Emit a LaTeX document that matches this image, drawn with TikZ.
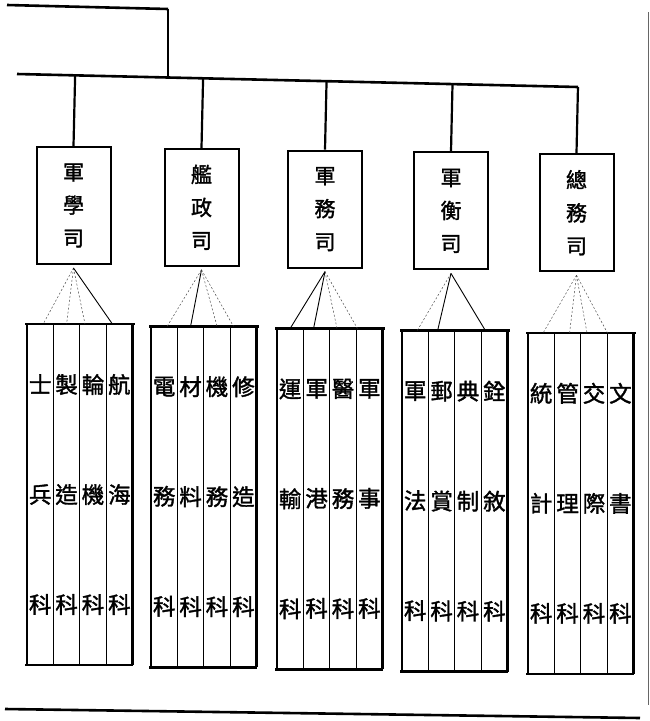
\documentclass[tikz,border=0pt]{standalone}
\usepackage{fontspec}
\newfontfamily\cjk[FakeBold=1.5]{Noto Sans CJK TC}
\usetikzlibrary{positioning, calc}
\tikzset{
  sibox/.style={draw, line width=2pt, minimum width=74pt, minimum height=117pt,
    inner sep=0pt, align=center, font=\cjk\fontsize{21}{33}\selectfont},
  kebox/.style={draw, line width=0.7pt, minimum width=26.4pt,
    minimum height=341pt, text width=26.4pt, inner sep=0pt, outer sep=0pt,
    align=center, font=\cjk\fontsize{22.5}{110}\selectfont},
  rule/.style={line width=2.6pt},
  stem/.style={line width=2.2pt},
  side/.style={line width=2.4pt},
  fanline/.style={line width=0.9pt},
  fandot/.style={line width=0.5pt, dash pattern=on 2pt off 2pt, black!70},
}
\begin{document}
\begin{tikzpicture}[x=1pt, y=-1pt]
    \useasboundingbox (0,0) rectangle (650,721);
    \coordinate (topL) at (7,5);
    \coordinate (topR) at (168,9);
    \coordinate (spine) at (168,77);
    \coordinate (busL) at (17,74);
    \coordinate (busR) at (578,87);
    \draw[rule] (topL) -- (topR);
    \draw[stem] (topR) -- (spine);
    \draw[rule] (busL) -- (busR);

    \node[sibox] (xue) at (73.5,205.5) {軍\\學\\司};
    \node[sibox] (jian) at (201.5,207.3) {艦\\政\\司};
    \node[sibox] (jwu) at (325,209.1) {軍\\務\\司};
    \node[sibox] (heng) at (451,210.9) {軍\\衡\\司};
    \node[sibox] (zong) at (576.5,212.7) {總\\務\\司};
    \foreach \s in {xue, jian, jwu, heng, zong} {
      \coordinate (\s T) at ($(busL)!(\s.north)!(busR)$);
      \draw[stem] (\s T) -- (\s.north);
      \coordinate (\s F) at ([yshift=-3pt]\s.south);
    }

    \node[kebox] (xueA) at (40.2,494.5) {士\\兵\\科};
    \node[kebox, right=0pt of xueA] (xueB) {製\\造\\科};
    \node[kebox, right=0pt of xueB] (xueC) {輪\\機\\科};
    \node[kebox, right=0pt of xueC] (xueD) {航\\海\\科};

    \node[kebox] (jianA) at (164.2,496.7) {電\\務\\科};
    \node[kebox, right=0pt of jianA] (jianB) {材\\料\\科};
    \node[kebox, right=0pt of jianB] (jianC) {機\\務\\科};
    \node[kebox, right=0pt of jianC] (jianD) {修\\造\\科};

    \node[kebox] (jwuA) at (290.2,498.9) {運\\輸\\科};
    \node[kebox, right=0pt of jwuA] (jwuB) {軍\\港\\科};
    \node[kebox, right=0pt of jwuB] (jwuC) {醫\\務\\科};
    \node[kebox, right=0pt of jwuC] (jwuD) {軍\\事\\科};

    \node[kebox] (hengA) at (415.2,501.1) {軍\\法\\科};
    \node[kebox, right=0pt of hengA] (hengB) {郵\\賞\\科};
    \node[kebox, right=0pt of hengB] (hengC) {典\\制\\科};
    \node[kebox, right=0pt of hengC] (hengD) {銓\\敘\\科};

    \node[kebox] (zongA) at (541.2,503.3) {統\\計\\科};
    \node[kebox, right=0pt of zongA] (zongB) {管\\理\\科};
    \node[kebox, right=0pt of zongB] (zongC) {交\\際\\科};
    \node[kebox, right=0pt of zongC] (zongD) {文\\書\\科};

    \foreach \s in {xue, jian, jwu, heng, zong} {
      \draw[rule] ([xshift=-2pt]\s A.north west) -- ([xshift=2pt]\s D.north east);
      \draw[rule] ([xshift=-2pt]\s A.south west) -- (\s D.south east);
      \draw[side] (\s A.north west) -- (\s A.south west);
      \draw[side] (\s D.north east) -- (\s D.south east);
    }

    \draw[fandot] (xueF) -- ([xshift=3pt]xueA.north);
    \draw[fandot] (xueF) -- (xueB.north);
    \draw[fandot] (xueF) -- ([xshift=-8pt]xueC.north);
    \draw[fanline] (xueF) -- ([xshift=-7pt]xueD.north);
    \draw[fandot] (jianF) -- ([xshift=3pt]jianA.north);
    \draw[fanline] (jianF) -- (jianB.north);
    \draw[fandot] (jianF) -- (jianC.north);
    \draw[fandot] (jianF) -- ([xshift=-10pt]jianD.north);
    \draw[fanline] (jwuF) -- (jwuA.north);
    \draw[fanline] (jwuF) -- ([xshift=-3pt]jwuB.north);
    \draw[fandot] (jwuF) -- ([xshift=-6pt]jwuC.north);
    \draw[fandot] (jwuF) -- ([xshift=-12pt]jwuD.north);
    \draw[fandot] (hengF) -- ([xshift=2pt]hengA.north);
    \draw[fanline] (hengF) -- ([xshift=-4pt]hengB.north);
    \draw[fanline] (hengF) -- ([xshift=-9pt]hengD.north);
    \draw[fandot] (zongF) -- ([xshift=2pt]zongA.north);
    \draw[fandot] (zongF) -- ([xshift=2pt]zongB.north);
    \draw[fandot] (zongF) -- ([xshift=-7pt]zongC.north);
    \draw[fandot] (zongF) -- ([xshift=-13pt]zongD.north);

    \coordinate (baseL) at (5,709);
    \coordinate (baseR) at (640,718);
    \draw[rule] (baseL) -- (baseR);
    \coordinate (edgeT) at (648,12);
    \coordinate (edgeB) at (648,705);
    \draw[black!60, line width=0.8pt] (edgeT) -- (edgeB);
  \end{tikzpicture}
\end{document}
